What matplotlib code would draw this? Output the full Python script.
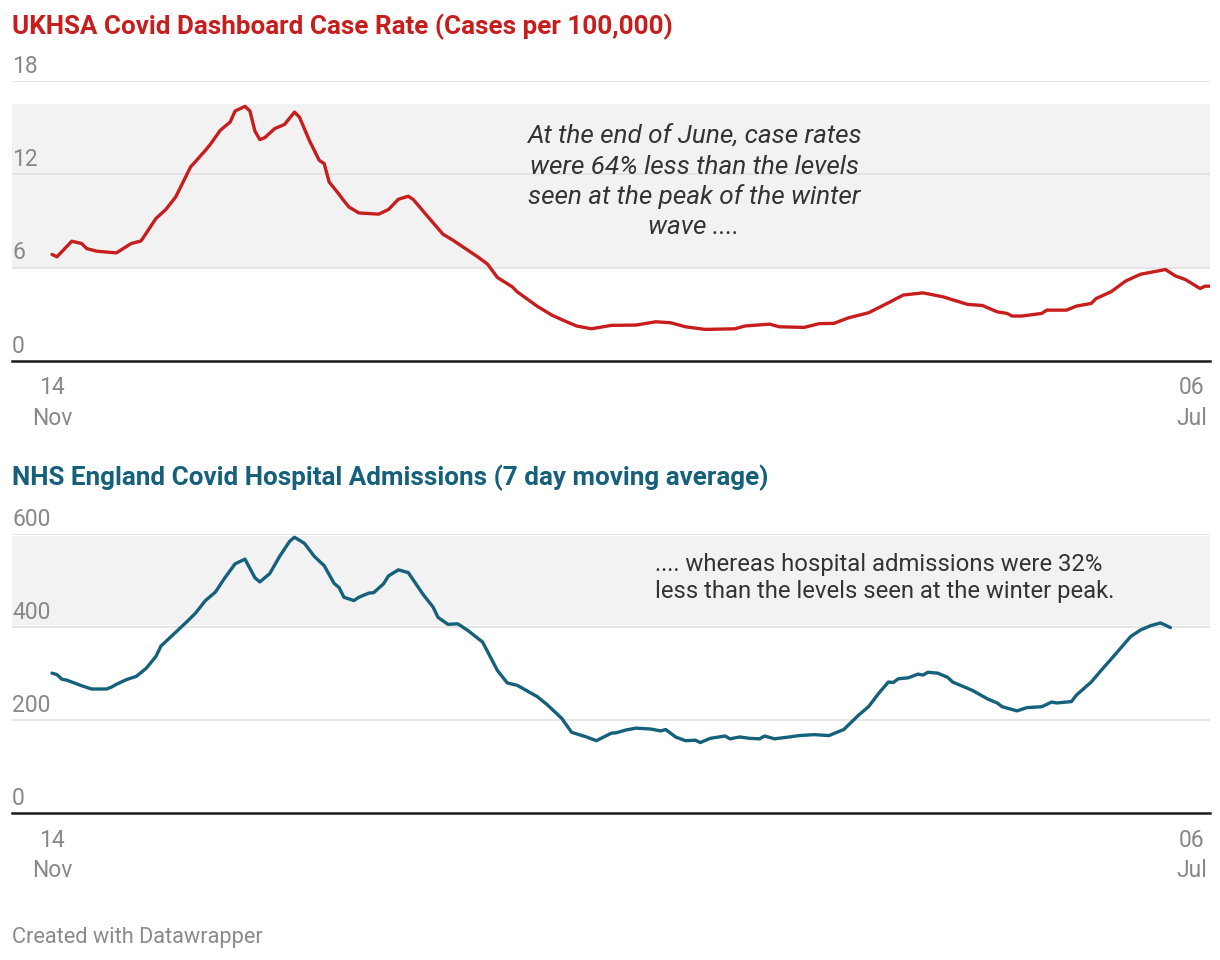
import matplotlib
matplotlib.use("Agg")
import matplotlib.pyplot as plt

plt.rcParams['font.family'] = ['Roboto', 'DejaVu Sans']

# days counted from 14 Nov
case_days = [0, 1, 4, 6, 7, 9, 13, 16, 18, 19,
             21, 23, 25, 28, 31, 32, 34, 36, 37, 39,
             40, 41, 42, 43, 45, 47, 49, 50, 52, 54,
             55, 56, 58, 59, 60, 62, 66, 68, 70, 72,
             73, 74, 76, 79, 81, 86, 88, 90, 93, 94,
             98, 101, 104, 106, 109, 113, 118, 122, 125, 128,
             132, 138, 140, 145, 147, 152, 155, 158, 161, 165,
             169, 172, 176, 180, 185, 188, 191, 193, 194, 196,
             200, 201, 205, 207, 210, 211, 214, 217, 220, 225,
             227, 229, 232, 233, 234]
case_rate = [6.85, 6.70, 7.70, 7.55, 7.23, 7.06, 6.95, 7.55, 7.72, 8.20,
             9.16, 9.74, 10.55, 12.47, 13.54, 13.93, 14.83, 15.36, 16.07, 16.37,
             16.07, 14.78, 14.23, 14.36, 14.94, 15.21, 16.00, 15.68, 14.18, 12.90,
             12.69, 11.51, 10.72, 10.29, 9.90, 9.52, 9.44, 9.74, 10.40, 10.59,
             10.38, 10.01, 9.26, 8.15, 7.77, 6.70, 6.23, 5.37, 4.77, 4.45,
             3.53, 2.95, 2.52, 2.25, 2.07, 2.29, 2.31, 2.52, 2.46, 2.20,
             2.03, 2.07, 2.25, 2.37, 2.20, 2.16, 2.40, 2.42, 2.78, 3.10,
             3.74, 4.24, 4.38, 4.13, 3.64, 3.57, 3.16, 3.06, 2.89, 2.89,
             3.06, 3.27, 3.27, 3.53, 3.70, 4.02, 4.45, 5.15, 5.58, 5.88,
             5.47, 5.24, 4.66, 4.81, 4.81]

adm_days = [0, 1, 2, 3, 6, 8, 11, 12, 13, 15,
            17, 19, 21, 22, 24, 27, 29, 31, 33, 35,
            37, 39, 41, 42, 44, 46, 48, 49, 51, 53,
            55, 57, 58, 59, 61, 62, 64, 65, 67, 68,
            70, 72, 75, 77, 78, 80, 82, 84, 87, 90,
            92, 94, 96, 98, 100, 103, 105, 108, 110, 113,
            114, 116, 118, 121, 123, 124, 126, 128, 130, 131,
            133, 136, 137, 139, 141, 143, 144, 146, 149, 151,
            154, 157, 160, 163, 165, 167, 169, 170, 171, 173,
            175, 176, 177, 179, 181, 182, 186, 189, 191, 192,
            195, 197, 200, 202, 203, 206, 207, 210, 212, 214,
            218, 220, 222, 224, 226]
admissions = [301, 298, 288, 286, 274, 267, 267, 271, 277, 287,
              294, 311, 337, 359, 379, 409, 430, 457, 475, 507,
              536, 546, 506, 497, 515, 552, 584, 593, 580, 552,
              532, 494, 485, 464, 457, 464, 473, 474, 493, 510,
              523, 517, 470, 443, 421, 406, 407, 393, 368, 307,
              280, 275, 263, 251, 234, 204, 174, 164, 156, 172,
              173, 179, 183, 181, 177, 180, 164, 156, 157, 152,
              161, 166, 160, 164, 161, 160, 166, 160, 164, 167,
              169, 167, 180, 211, 229, 257, 282, 281, 289, 291,
              299, 297, 303, 301, 292, 282, 264, 246, 237, 229,
              220, 227, 229, 239, 237, 240, 254, 282, 307, 331,
              380, 394, 403, 409, 399]

case_ticks = [0, 6, 12, 18]
adm_ticks = [0, 200, 400, 600]
case_band = (5.9, 16.5)
adm_band = (405, 595)
x_labels = ["14\nNov", "06\nJul"]

RED = '#c71e1d'
BLUE = '#15607a'
GREY = '#888888'

fig = plt.figure(figsize=(12.2, 9.6), dpi=100)
W, H = 1220, 960


def make_panel(top_px, bottom_px, ymax, ticks, band, days, values, color):
    ax = fig.add_axes([12 / W, 1 - bottom_px / H, 1198 / W, (bottom_px - top_px) / H])
    ax.set_xlim(-40 / 4.949, 234)
    ax.set_ylim(0, ymax)
    ax.axis('off')
    ax.axhspan(band[0], band[1], color='#f2f2f2', lw=0, zorder=0)
    for t in ticks[1:]:
        ax.axhline(t, color='#e3e3e3', lw=1.3, zorder=1)
    ax.axhline(0, color='#1a1a1a', lw=1.8, zorder=3, clip_on=False)
    for t in ticks:
        ax.annotate(str(t), xy=(0, t), xycoords=('axes fraction', 'data'),
                    xytext=(0, 6), textcoords='offset points',
                    ha='left', va='baseline', fontsize=16.5, color=GREY)
    ax.plot(days, values, color=color, lw=2.4, solid_joinstyle='round',
            solid_capstyle='round', zorder=4)
    ax.text(0, -0.055, x_labels[0], transform=ax.get_xaxis_transform(),
            ha='center', va='top', fontsize=16.5, color=GREY, linespacing=1.4)
    ax.text(0.9975, -0.055, x_labels[1], transform=ax.transAxes,
            ha='right', va='top', fontsize=16.5, color=GREY, linespacing=1.4,
            multialignment='center')
    return ax


ax1 = make_panel(81, 361, 18, case_ticks, case_band, case_days, case_rate, RED)
ax2 = make_panel(534, 813.3, 600, adm_ticks, adm_band, adm_days, admissions, BLUE)

fig.text(12 / W, 1 - 27 / H, "UKHSA Covid Dashboard Case Rate (Cases per 100,000)",
         ha='left', va='center', fontsize=18.7, fontweight='bold', color=RED)
fig.text(12 / W, 1 - 478 / H, "NHS England Covid Hospital Admissions (7 day moving average)",
         ha='left', va='center', fontsize=18.7, fontweight='bold', color=BLUE)

fig.text(694 / W, 1 - 182 / H,
         "At the end of June, case rates\nwere 64% less than the levels\n"
         "seen at the peak of the winter\nwave ....",
         ha='center', va='center', fontsize=18.8, style='italic', color='#333333',
         linespacing=1.3)
fig.text(655 / W, 1 - 578 / H,
         ".... whereas hospital admissions were 32%\nless than the levels seen at the winter peak.",
         ha='left', va='center', fontsize=17.2, color='#333333', linespacing=1.22)

fig.text(12 / W, 1 - 937 / H, "Created with Datawrapper", ha='left', va='center',
         fontsize=15.7, color='#8a8a8a')

fig.savefig('out.png', dpi=100, facecolor='white')
